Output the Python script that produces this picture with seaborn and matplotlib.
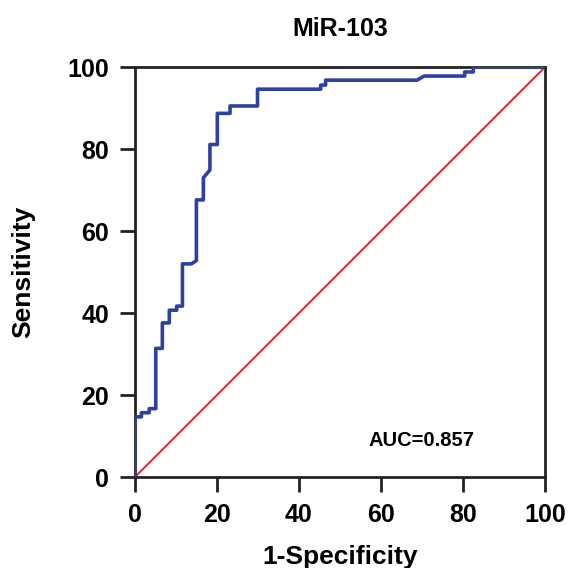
import matplotlib
matplotlib.use("Agg")
import matplotlib.pyplot as plt
import seaborn as sns
import pandas as pd

# ROC curve for MiR-103 (percent scale)
fpr = [0, 0, 1.6, 1.6, 3.5, 3.5, 5.1, 5.1, 6.7, 6.7, 8.4, 8.4, 10.2, 10.2,
       11.6, 11.6, 13.8, 15.0, 15.0, 16.7, 16.7, 18.3, 18.3, 20.1, 20.1,
       23.2, 23.2, 29.9, 29.9, 45.3, 45.3, 46.5, 46.5, 68.8, 70.5, 80.4,
       80.4, 82.5, 82.5, 100]
tpr = [0, 14.7, 14.7, 15.7, 15.7, 16.7, 16.7, 31.4, 31.4, 37.6, 37.6, 40.7,
       40.7, 41.7, 41.7, 52.0, 52.0, 52.8, 67.6, 67.6, 73.0, 74.9, 81.1,
       81.1, 88.7, 88.7, 90.5, 90.5, 94.6, 94.6, 95.6, 95.6, 96.8, 96.8,
       97.8, 97.8, 98.8, 98.8, 100, 100]
ref_x = [0, 100]
ref_y = [0, 100]
ticks = [0, 20, 40, 60, 80, 100]
auc = 0.857

sns.set_style("ticks")
plt.rcParams["font.family"] = ["Liberation Sans", "DejaVu Sans"]
plt.rcParams["font.weight"] = "bold"
plt.rcParams["text.color"] = "black"
plt.rcParams["xtick.color"] = "#222222"
plt.rcParams["ytick.color"] = "#222222"
plt.rcParams["xtick.labelcolor"] = "black"
plt.rcParams["ytick.labelcolor"] = "black"
plt.rcParams["axes.labelcolor"] = "black"

fig = plt.figure(figsize=(5.69, 5.68), dpi=100)
ax = fig.add_axes([0.237, 0.160, 0.721, 0.722])

roc = pd.DataFrame({"fpr": fpr, "tpr": tpr})
diag = pd.DataFrame({"x": ref_x, "y": ref_y})
sns.lineplot(data=diag, x="x", y="y", ax=ax, color="#E0242C", linewidth=1.4,
             sort=False, estimator=None)
sns.lineplot(data=roc, x="fpr", y="tpr", ax=ax, color="#2F41A0", linewidth=2.6,
             sort=False, estimator=None, zorder=3)

ax.set_xlim(0, 100)
ax.set_ylim(0, 100)
ax.set_xticks(ticks)
ax.set_yticks(ticks)
for side in ["left", "right", "top", "bottom"]:
    ax.spines[side].set_visible(True)
    ax.spines[side].set_linewidth(2.0)
    ax.spines[side].set_color("#222222")
ax.tick_params(axis="both", length=10.5, width=2.0, labelsize=18, pad=8,
               direction="out")
for lab in ax.get_xticklabels() + ax.get_yticklabels():
    lab.set_fontweight("bold")

ax.set_xlabel("1-Specificity", fontsize=19, fontweight="bold", labelpad=13)
ax.set_ylabel("Sensitivity", fontsize=19, fontweight="bold", labelpad=23)
ax.set_title("MiR-103", fontsize=18, fontweight="bold", pad=22)
ax.text(69.8, 9.0, f"AUC={auc}", fontsize=14.5, fontweight="bold",
        ha="center", va="center")

fig.savefig("out.png", dpi=100)
